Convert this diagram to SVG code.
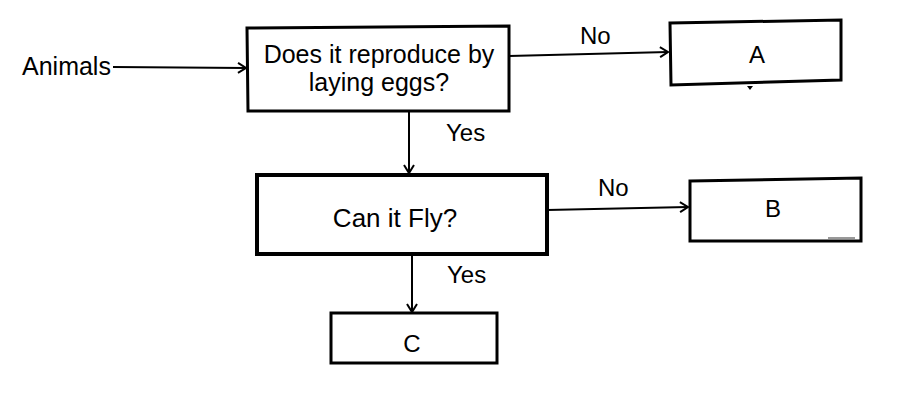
<svg xmlns="http://www.w3.org/2000/svg" width="902" height="412" viewBox="0 0 902 412">
<defs>
<marker id="arr" markerWidth="12" markerHeight="12" refX="10" refY="6" orient="auto" markerUnits="userSpaceOnUse">
<path d="M2,1 L10,6 L2,11" fill="none" stroke="#000" stroke-width="2"/>
</marker>
<style>
text{font-family:"Liberation Sans",Arial,sans-serif;fill:#000;}
.lbl{font-size:24px;}
.box{fill:#fff;stroke:#000;stroke-width:3;}
.conn{fill:none;stroke:#000;stroke-width:2;marker-end:url(#arr);}
</style>
</defs>
<rect width="902" height="412" fill="#fff"/>
<g id="connectors">
<path class="conn" d="M113,67 L246,68"/>
<path class="conn" d="M509,56 L668,52"/>
<path class="conn" d="M409,112 L409,173"/>
<path class="conn" d="M547,210 L688,207"/>
<path class="conn" d="M412,255 L412,312"/>
<text class="lbl" x="580" y="44">No</text>
<text class="lbl" x="446" y="141">Yes</text>
<text class="lbl" x="598" y="196">No</text>
<text class="lbl" x="447" y="283">Yes</text>
</g>
<g id="animals">
<text x="22" y="75" font-size="25">Animals</text>
</g>
<g id="q1">
<path class="box" d="M247,28 L509,26 L509,111 L248,111 Z"/>
<text x="379" y="63" font-size="25" text-anchor="middle">Does it reproduce by</text>
<text x="379" y="91" font-size="25" text-anchor="middle">laying eggs?</text>
</g>
<g id="A">
<path class="box" d="M670,23 L841,20 L841,80 L671,85 Z"/>
<path d="M747,86 L750,90 L753,86" fill="#000"/>
<text class="lbl" x="757" y="63" text-anchor="middle">A</text>
</g>
<g id="q2">
<rect class="box" x="257" y="175" width="290" height="79" style="stroke-width:4"/>
<text x="395" y="227" font-size="26" text-anchor="middle">Can it Fly?</text>
</g>
<g id="B">
<path class="box" d="M690,181 L861,178 L861,241 L690,241 Z"/>
<line x1="828" y1="238" x2="855" y2="238" stroke="#999" stroke-width="2"/>
<text class="lbl" x="773" y="217" text-anchor="middle">B</text>
</g>
<g id="C">
<rect class="box" x="331" y="313" width="166" height="50"/>
<text class="lbl" x="412" y="352" text-anchor="middle">C</text>
</g>
</svg>
